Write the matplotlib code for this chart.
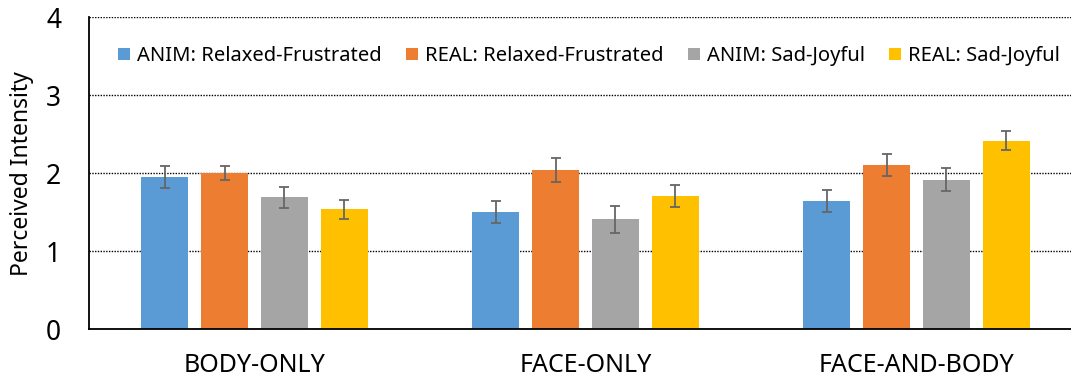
import numpy as np
from matplotlib import pyplot as plt

plt.rcParams['font.family'] = ['Noto Sans', 'DejaVu Sans']

# conditions on the x axis
conditions = ["BODY-ONLY", "FACE-ONLY", "FACE-AND-BODY"]

# one series per stimulus type / emotion scale
series_names = ["ANIM: Relaxed-Frustrated", "REAL: Relaxed-Frustrated",
                "ANIM: Sad-Joyful", "REAL: Sad-Joyful"]
anim_rf = [1.95, 1.50, 1.64]
real_rf = [2.00, 2.04, 2.11]
anim_sj = [1.69, 1.41, 1.92]
real_sj = [1.54, 1.71, 2.42]

# standard errors
anim_rf_err = [0.14, 0.14, 0.14]
real_rf_err = [0.09, 0.155, 0.14]
anim_sj_err = [0.135, 0.17, 0.145]
real_sj_err = [0.12, 0.14, 0.125]

colors = ['#5B9BD5', '#ED7D31', '#A5A5A5', '#FFC000']

means = [anim_rf, real_rf, anim_sj, real_sj]
errs = [anim_rf_err, real_rf_err, anim_sj_err, real_sj_err]

fig = plt.figure(figsize=(10.71, 3.81), dpi=100)
# axis runs slightly past the right edge of the figure
ax = fig.add_axes([89 / 1071, 1 - 329.3 / 381, 993 / 1071, 312 / 381])

x = np.arange(len(conditions))
step = 0.181
width = 0.142
for i in range(4):
    ax.bar(x + (i - 1.5) * step, means[i], width, color=colors[i],
           label=series_names[i], zorder=2)
    ax.errorbar(x + (i - 1.5) * step, means[i], yerr=errs[i], fmt='none',
                ecolor='#666666', elinewidth=1.3, capsize=3.5, capthick=1.3,
                zorder=3)

ax.set_xlim(-0.5, 2.5)
ax.set_ylim(0, 4)
ax.set_yticks([0, 1, 2, 3, 4])
ax.set_xticks(x)
ax.set_xticklabels(conditions, fontsize=18)
ax.tick_params(axis='y', labelsize=19, length=0, pad=20)
ax.tick_params(axis='x', length=0, pad=17)
ax.set_ylabel("Perceived Intensity", fontsize=16.5, labelpad=9)

ax.yaxis.grid(True, linestyle=(0, (1, 1)), color='black', linewidth=1, zorder=0)
ax.set_axisbelow(True)
for s in ['top', 'right']:
    ax.spines[s].set_visible(False)
ax.spines['left'].set_linewidth(1.3)
ax.spines['bottom'].set_linewidth(1.3)

fig.legend(loc='center', bbox_to_anchor=(589 / 1071, 1 - 56 / 381), ncol=4,
           frameon=False, fontsize=14.5, handlelength=0.6, handleheight=0.6,
           handletextpad=0.35, columnspacing=1.2)

fig.savefig("out.png", dpi=100)
